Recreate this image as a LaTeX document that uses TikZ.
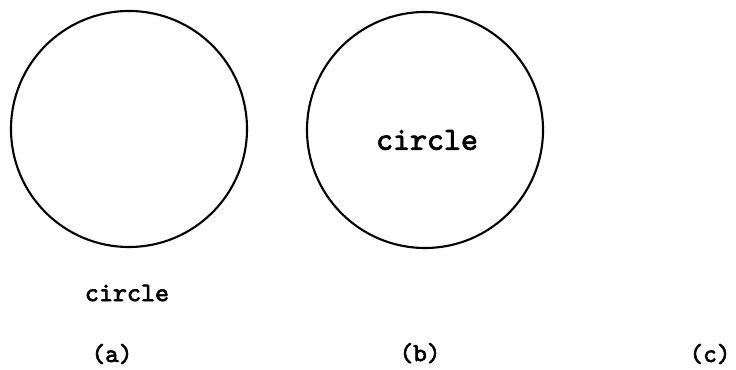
\documentclass[tikz,border=0pt]{standalone}
\usepackage{fontspec}
\setmonofont{lmmono10-regular.otf}[AutoFakeBold=2.5]
\usepackage{tikz}

\begin{document}
\begin{tikzpicture}[
  shape outline/.style={draw, circle, line width=1.5pt, minimum size=5.9cm, inner sep=0pt},
  word/.style={font=\ttfamily\bfseries\fontsize{19}{22}\selectfont, inner sep=0pt},
  bigword/.style={font=\ttfamily\bfseries\fontsize{23}{26}\selectfont, inner sep=0pt},
  tag/.style={font=\ttfamily\bfseries\fontsize{18.5}{22}\selectfont, inner sep=0pt}
]
\useasboundingbox (0,0) rectangle (18.4,9.25);

% (a): label outside the circle
\node[shape outline] (circA) at (3.225, 6.025) {};
\node[word] (txtA) at (3.175, 1.925) {circle};

% (b): label inside the circle
\node[shape outline] (circB) at (10.625, 6.0) {};
\node[bigword] (txtB) at (10.675, 5.75) {circle};

% Captions
\node[tag] (capA) at (2.8, 0.4) {(a)};
\node[tag] (capB) at (10.5, 0.42) {(b)};
\node[tag] (capC) at (17.75, 0.4) {(c)};

\end{tikzpicture}
\end{document}
